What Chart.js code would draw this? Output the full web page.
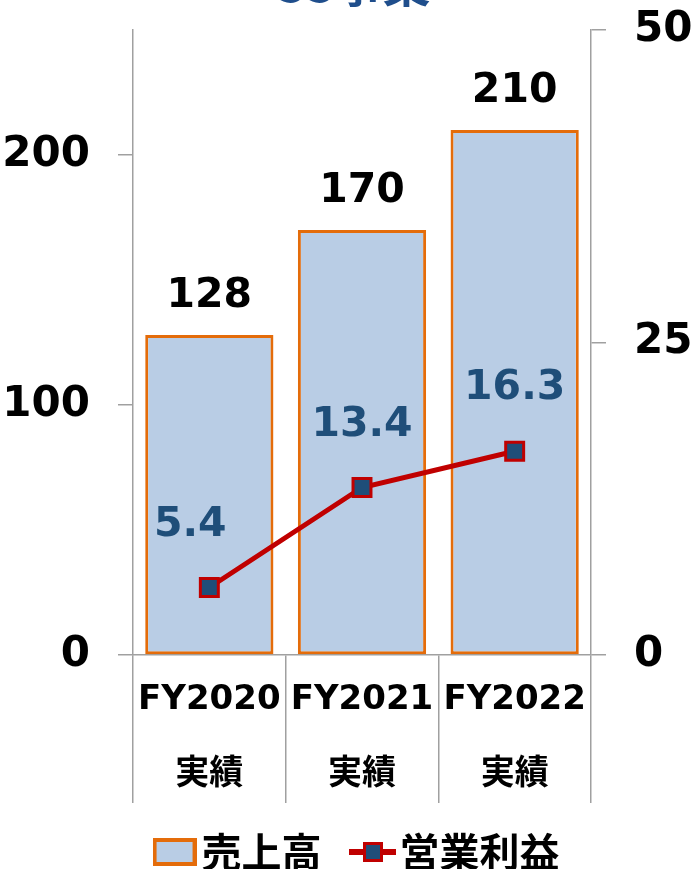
<!DOCTYPE html>
<html>
<head>
<meta charset="utf-8">
<script src="https://cdn.jsdelivr.net/npm/chart.js@4.4.0/dist/chart.umd.min.js"></script>
<style>
  html, body { margin: 0; padding: 0; background: #fff; }
  #wrap { width: 691px; height: 869px; position: relative; }
</style>
</head>
<body>
<div id="wrap"><canvas id="chart"></canvas></div>
<script>
const titleText = "SS事業";
const categories = [["FY2020", "実績"], ["FY2021", "実績"], ["FY2022", "実績"]];
const salesName = "売上高";
const profitName = "営業利益";
const sales = [128, 170, 210];
const profit = [5.4, 13.4, 16.3];
const leftTicks = [0, 100, 200];
const rightTicks = [0, 25, 50];

const FONT = '"DejaVu Sans", "Noto Sans CJK JP", sans-serif';
const JP = '"Noto Sans CJK JP", sans-serif';
const GREY = "#a0a0a0";
const BAR_FILL = "#b9cde5";
const BAR_EDGE = "#e46c0a";
const LINE_RED = "#c00000";
const DARK_BLUE = "#1f4e79";

// legend glyphs
function barGlyph() {
  const c = document.createElement("canvas");
  c.width = 44; c.height = 28;
  const g = c.getContext("2d");
  g.fillStyle = BAR_FILL;
  g.fillRect(0, 0, 44, 28);
  g.strokeStyle = BAR_EDGE;
  g.lineWidth = 4;
  g.strokeRect(2, 2, 40, 24);
  return c;
}
function lineGlyph() {
  const c = document.createElement("canvas");
  c.width = 47; c.height = 20;
  const g = c.getContext("2d");
  g.fillStyle = LINE_RED;
  g.fillRect(0, 7, 47, 6);
  g.fillStyle = DARK_BLUE;
  g.fillRect(15, 1, 18, 18);
  g.strokeStyle = LINE_RED;
  g.lineWidth = 3;
  g.strokeRect(15.5, 1.5, 17, 17);
  return c;
}

const valueLabels = {
  id: "valueLabels",
  afterUpdate(chart) {
    // legend in the reference sits a bit right of centre
    chart.legend.left += 18;
    chart.legend.right += 18;
  },
  afterDatasetsDraw(chart) {
    const ctx = chart.ctx;
    ctx.save();
    ctx.textAlign = "center";
    ctx.textBaseline = "alphabetic";
    ctx.font = "bold 41px " + FONT;
    ctx.fillStyle = "#000";
    chart.getDatasetMeta(0).data.forEach((bar, i) => {
      ctx.fillText(String(sales[i]), bar.x, bar.y - 28);
    });
    const shift = [-19, 0, 0];
    ctx.fillStyle = DARK_BLUE;
    chart.getDatasetMeta(1).data.forEach((pt, i) => {
      ctx.fillText(profit[i].toFixed(1), pt.x + shift[i], pt.y - 52);
    });
    ctx.restore();
  }
};

// title sits mostly above the canvas top, only its bottom shows
const cutTitle = {
  id: "cutTitle",
  afterDraw(chart) {
    const ctx = chart.ctx;
    ctx.save();
    ctx.font = "bold 48px " + JP;
    ctx.fillStyle = "#1f4e8c";
    ctx.textAlign = "center";
    ctx.textBaseline = "alphabetic";
    ctx.fillText(titleText, 353, 2);
    ctx.restore();
  }
};

const axisStyle = {
  grid: { drawOnChartArea: false, drawTicks: true, tickLength: 15, color: GREY, lineWidth: 1.5 },
  border: { color: GREY, width: 1.5 }
};

new Chart(document.getElementById("chart"), {
  data: {
    labels: categories,
    datasets: [
      {
        type: "bar",
        label: salesName,
        data: sales,
        yAxisID: "y",
        order: 1,
        backgroundColor: BAR_FILL,
        borderColor: BAR_EDGE,
        borderWidth: 3,
        borderSkipped: false,
        categoryPercentage: 1,
        barPercentage: 0.84
      },
      {
        type: "line",
        label: profitName,
        data: profit,
        yAxisID: "y1",
        order: 0,
        borderColor: LINE_RED,
        borderWidth: 5,
        pointStyle: "rect",
        pointRadius: 12.7,
        pointBackgroundColor: DARK_BLUE,
        pointBorderColor: LINE_RED,
        pointBorderWidth: 3,
        tension: 0
      }
    ]
  },
  options: {
    responsive: true,
    maintainAspectRatio: false,
    animation: false,
    layout: { padding: { top: 30, left: 0, right: 0, bottom: -13 } },
    plugins: {
      tooltip: { enabled: false },
      legend: {
        position: "bottom",
        labels: {
          usePointStyle: true,
          pointStyleWidth: 14,
          boxHeight: 28,
          padding: 44,
          color: "#000",
          font: { family: JP, size: 40, weight: "bold" },
          generateLabels: () => [
            { text: salesName, pointStyle: barGlyph(), fillStyle: BAR_FILL, strokeStyle: BAR_EDGE, lineWidth: 0, fontColor: "#000", datasetIndex: 0 },
            { text: profitName, pointStyle: lineGlyph(), fillStyle: DARK_BLUE, strokeStyle: LINE_RED, lineWidth: 0, fontColor: "#000", datasetIndex: 1 }
          ]
        }
      }
    },
    scales: {
      x: {
        offset: true,
        grid: { offset: true, drawOnChartArea: false, drawTicks: true, tickLength: 148, color: GREY, lineWidth: 1.5 },
        border: { color: GREY, width: 1.5 },
        ticks: { color: "#000", padding: -140, font: { family: FONT, size: 34, weight: "bold", lineHeight: 2.2 } },
        afterFit: s => { s.height = 133; }
      },
      y: {
        position: "left",
        min: 0,
        max: 250,
        ...axisStyle,
        ticks: { color: "#000", padding: 28, font: { family: FONT, size: 42, weight: "bold", lineHeight: 0.1 } },
        afterBuildTicks: s => { s.ticks = leftTicks.map(v => ({ value: v })); },
        afterFit: s => { s.width = 133; }
      },
      y1: {
        position: "right",
        min: 0,
        max: 50,
        ...axisStyle,
        ticks: { color: "#000", padding: 28, font: { family: FONT, size: 42, weight: "bold", lineHeight: 0.1 } },
        afterBuildTicks: s => { s.ticks = rightTicks.map(v => ({ value: v })); },
        afterFit: s => { s.width = 100; }
      }
    }
  },
  plugins: [valueLabels, cutTitle]
});
</script>
</body>
</html>
